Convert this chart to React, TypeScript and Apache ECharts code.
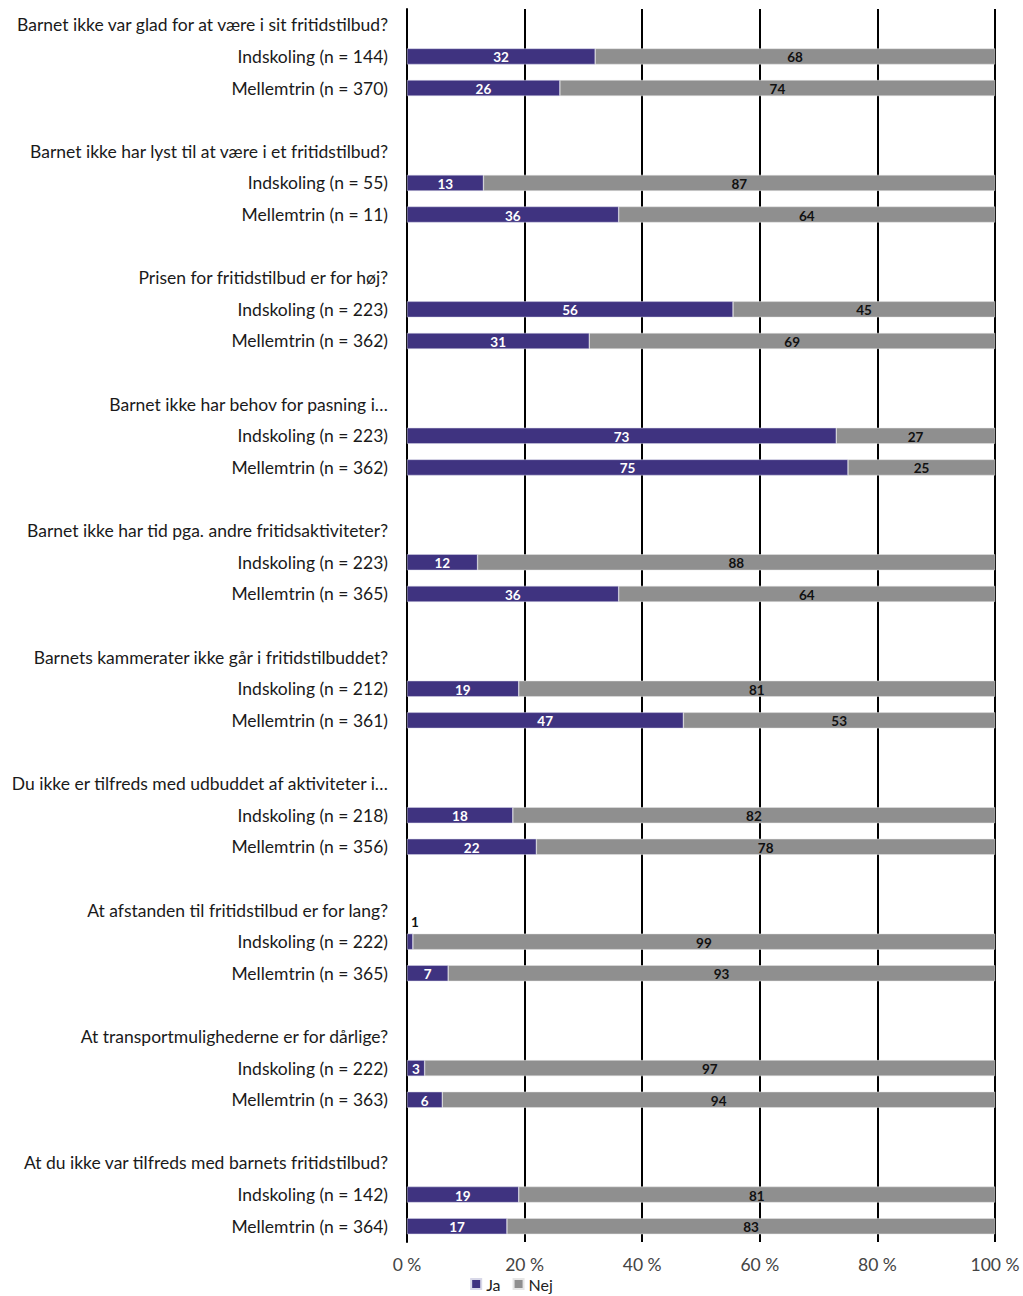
import React, { useEffect, useRef } from "react";
import * as echarts from "echarts";

const questions = [
  "Barnet ikke var glad for at være i sit fritidstilbud?",
  "Barnet ikke har lyst til at være i et fritidstilbud?",
  "Prisen for fritidstilbud er for høj?",
  "Barnet ikke har behov for pasning i…",
  "Barnet ikke har tid pga. andre fritidsaktiviteter?",
  "Barnets kammerater ikke går i fritidstilbuddet?",
  "Du ikke er tilfreds med udbuddet af aktiviteter i…",
  "At afstanden til fritidstilbud er for lang?",
  "At transportmulighederne er for dårlige?",
  "At du ikke var tilfreds med barnets fritidstilbud?",
];
const indskolingN = [144, 55, 223, 223, 223, 212, 218, 222, 222, 142];
const mellemtrinN = [370, 11, 362, 362, 365, 361, 356, 365, 363, 364];
const indskolingJa = [32, 13, 56, 73, 12, 19, 18, 1, 3, 19];
const indskolingNej = [68, 87, 45, 27, 88, 81, 82, 99, 97, 81];
const mellemtrinJa = [26, 36, 31, 75, 36, 47, 22, 7, 6, 17];
const mellemtrinNej = [74, 64, 69, 25, 64, 53, 78, 93, 94, 83];
const seriesNames = ["Ja", "Nej"];
const xTicks = { min: 0, max: 100, interval: 20 };

const FONT = "Lato, 'Noto Sans', sans-serif";

export default function App() {
  const ref = useRef<HTMLDivElement>(null);
  useEffect(() => {
    document.body.style.margin = "0";
    if (!ref.current) return;
    const chart = echarts.init(ref.current, null, { renderer: "svg" });

    const categories: string[] = [];
    const rows: ({ ja: number; nej: number } | null)[] = [];
    questions.forEach((q, i) => {
      categories.push(q);
      rows.push(null);
      categories.push(`Indskoling (n = ${indskolingN[i]})`);
      rows.push({ ja: indskolingJa[i], nej: indskolingNej[i] });
      categories.push(`Mellemtrin (n = ${mellemtrinN[i]})`);
      rows.push({ ja: mellemtrinJa[i], nej: mellemtrinNej[i] });
      if (i < questions.length - 1) {
        categories.push("");
        rows.push(null);
      }
    });

    const mk = (key: "ja" | "nej") =>
      rows.map((r) => {
        if (!r) return { value: "-" as any, raw: null };
        const total = r.ja + r.nej;
        const item: any = { value: (r[key] / total) * 100, raw: r[key] };
        if (key === "ja" && r.ja < 2) {
          item.label = {
            position: "top",
            offset: [5, 0],
            color: "#111",
          };
        }
        return item;
      });

    chart.setOption({
      animation: false,
      textStyle: { fontFamily: FONT },
      grid: { left: 407, right: 28, top: 9, bottom: 54, containLabel: false },
      legend: {
        data: seriesNames,
        left: "center",
        top: 1276,
        padding: 0,
        icon: "rect",
        itemWidth: 10,
        itemHeight: 10,
        itemGap: 12,
        textStyle: { fontSize: 16, color: "#222", fontFamily: FONT },
      },
      xAxis: {
        type: "value",
        min: xTicks.min,
        max: xTicks.max,
        interval: xTicks.interval,
        axisLine: { show: false },
        axisTick: { show: false },
        splitLine: { show: true, lineStyle: { color: "#000", width: 2 } },
        axisLabel: {
          formatter: "{value} %",
          fontSize: 17.5,
          color: "#444",
          margin: 13,
          fontFamily: FONT,
        },
      },
      yAxis: {
        type: "category",
        inverse: true,
        data: categories,
        axisLine: { show: true, lineStyle: { color: "#000", width: 2 } },
        axisTick: { show: false },
        axisLabel: {
          fontSize: 17.5,
          color: "#1a1a1a",
          margin: 19,
          interval: 0,
          fontFamily: FONT,
        },
      },
      series: [
        {
          name: seriesNames[0],
          type: "bar",
          stack: "total",
          barWidth: 16,
          itemStyle: { color: "#3f3380", borderColor: "#d8d8e8", borderWidth: 0.5 },
          label: {
            show: true,
            position: "inside",
            color: "#fff",
            fontWeight: "bold",
            fontSize: 13.5,
            fontFamily: FONT,
            offset: [0, 1],
            formatter: (p: any) => (p.data && p.data.raw != null ? String(p.data.raw) : ""),
          },
          data: mk("ja"),
        },
        {
          name: seriesNames[1],
          type: "bar",
          stack: "total",
          barWidth: 16,
          itemStyle: { color: "#8f8f8f", borderColor: "#e6e6e6", borderWidth: 0.5 },
          label: {
            show: true,
            position: "inside",
            color: "#111",
            fontWeight: "bold",
            fontSize: 13.5,
            fontFamily: FONT,
            offset: [0, 1],
            formatter: (p: any) => (p.data && p.data.raw != null ? String(p.data.raw) : ""),
          },
          data: mk("nej"),
        },
      ],
    });
    return () => chart.dispose();
  }, []);
  return <div ref={ref} style={{ width: 1023, height: 1296 }} />;
}
